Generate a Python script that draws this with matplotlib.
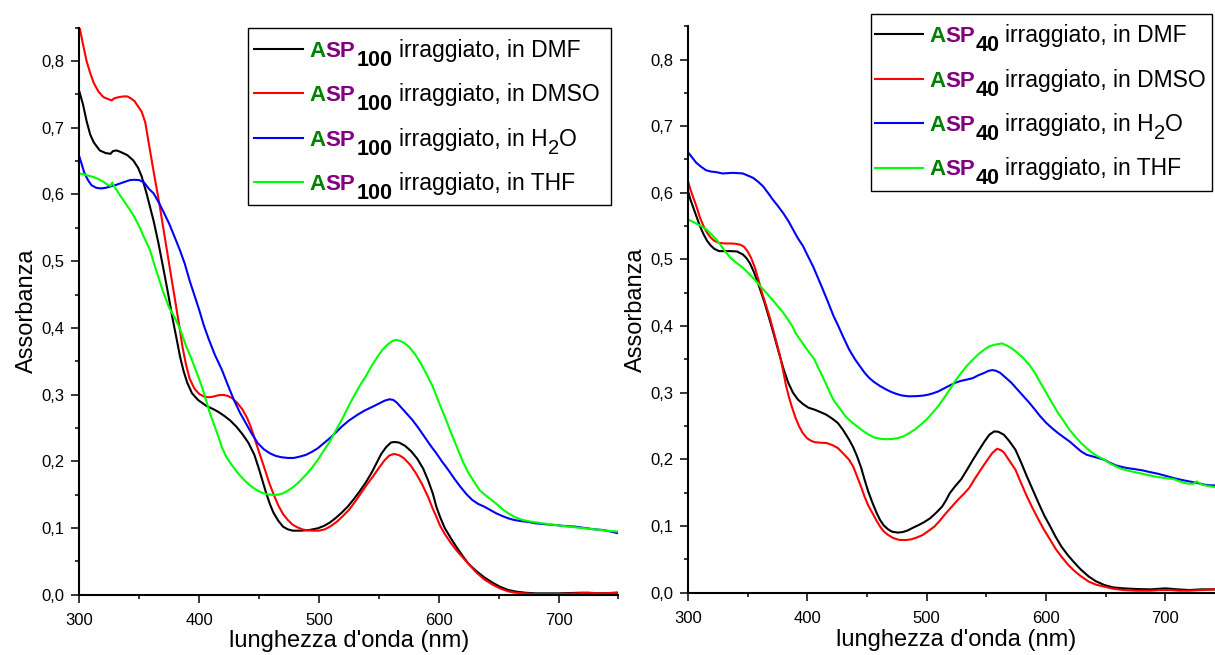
import matplotlib
matplotlib.use("Agg")
import matplotlib.pyplot as plt
from matplotlib.lines import Line2D
from matplotlib.patches import Rectangle
from matplotlib.ticker import FixedLocator, MultipleLocator, FixedFormatter

plt.rcParams['font.family'] = ['Liberation Sans', 'DejaVu Sans']

# ---------------- data: ASP100 (left panel) ----------------
wl_100_dmf = [300, 303, 306, 309, 312, 317, 322, 326, 328, 331, 334, 340, 345, 349, 352, 356, 359,
              362, 366, 370, 374, 378, 381, 384, 387, 390, 394, 399, 406, 412, 416, 421, 426, 431,
              436, 441, 446, 450, 453, 456, 459, 462, 466, 470, 474, 478, 485, 492, 499, 504, 509,
              514, 519, 524, 529, 534, 539, 544, 548, 552, 556, 560, 563, 567, 572, 577, 582, 587,
              591, 595, 598, 601, 605, 610, 615, 620, 625, 631, 638, 645, 651, 658, 665, 672, 681,
              700, 720, 735, 750]
abs_100_dmf = [0.754, 0.735, 0.710, 0.690, 0.678, 0.666, 0.662, 0.661, 0.665, 0.666, 0.664, 0.659,
               0.651, 0.640, 0.627, 0.602, 0.581, 0.560, 0.527, 0.490, 0.452, 0.412, 0.385, 0.357,
               0.335, 0.318, 0.302, 0.292, 0.283, 0.278, 0.274, 0.268, 0.261, 0.252, 0.241, 0.228,
               0.210, 0.188, 0.170, 0.152, 0.136, 0.123, 0.111, 0.102, 0.098, 0.096, 0.096, 0.097,
               0.0995, 0.103, 0.108, 0.115, 0.123, 0.132, 0.143, 0.155, 0.168, 0.183, 0.197, 0.211,
               0.221, 0.228, 0.229, 0.228, 0.223, 0.215, 0.204, 0.189, 0.172, 0.152, 0.132, 0.117,
               0.100, 0.085, 0.071, 0.058, 0.046, 0.036, 0.026, 0.018, 0.012, 0.007, 0.0045, 0.003,
               0.002, 0.002, 0.003, 0.002, 0.003]

wl_100_dmso = [300, 303, 306, 309, 312, 316, 320, 324, 327, 329, 333, 337, 340, 343, 346, 349, 352,
               355, 358.7, 362, 367, 372, 378, 383.8, 386, 389, 392, 396, 400, 404, 408, 412, 416,
               420, 424, 428, 432, 436, 440, 443, 446, 449, 452, 455, 458, 462, 466, 470, 474, 478,
               482, 486, 490, 495, 500, 505, 510, 515, 520, 525, 530, 535, 540, 545, 550, 555, 559,
               563, 567, 571, 576, 581, 586, 591, 595, 598, 601, 605, 610, 615, 620, 625, 631, 638,
               645, 651, 658, 664, 672, 680, 700, 715, 725, 735, 750]
abs_100_dmso = [0.852, 0.825, 0.800, 0.782, 0.767, 0.754, 0.746, 0.743, 0.741, 0.744, 0.746, 0.747,
                0.747, 0.744, 0.740, 0.732, 0.724, 0.708, 0.6685, 0.634, 0.5835, 0.528, 0.462,
                0.3985, 0.372, 0.345, 0.324, 0.309, 0.301, 0.297, 0.296, 0.297, 0.299, 0.2995,
                0.298, 0.294, 0.287, 0.278, 0.265, 0.252, 0.236, 0.219, 0.203, 0.187, 0.170, 0.151,
                0.134, 0.121, 0.112, 0.105, 0.101, 0.098, 0.0965, 0.096, 0.096, 0.098, 0.103,
                0.1095, 0.118, 0.127, 0.139, 0.152, 0.165, 0.177, 0.190, 0.202, 0.209, 0.211, 0.209,
                0.2045, 0.195, 0.182, 0.166, 0.147, 0.129, 0.117, 0.104, 0.091, 0.078, 0.066, 0.056,
                0.046, 0.034, 0.023, 0.015, 0.0095, 0.005, 0.003, 0.002, 0.001, 0.001, 0.002,
                0.003, 0.002, 0.003]

wl_100_h2o = [300, 302, 304, 307, 310, 314, 318, 322, 326, 330, 334, 338, 342, 346, 350, 354, 358,
              362, 367, 371, 375, 380, 384, 388, 392, 396, 400, 404, 408, 413, 419, 424, 429, 434,
              439, 444, 449, 454, 459, 464, 469, 474, 479, 484, 489, 494, 499, 504, 509, 514, 519,
              525, 532, 538, 545, 550, 555, 559, 562, 565, 568, 573, 578, 583, 588, 593, 598, 603,
              608, 613, 618, 623, 628, 633, 638, 643, 648, 653, 658, 663, 668, 675, 681, 690, 697,
              705, 714, 722, 730, 737, 744, 750]
abs_100_h2o = [0.6565, 0.645, 0.633, 0.622, 0.614, 0.610, 0.609, 0.610, 0.612, 0.614, 0.6165, 0.619,
               0.6215, 0.622, 0.6215, 0.618, 0.6085, 0.6015, 0.5855, 0.571, 0.556, 0.534, 0.516,
               0.496, 0.471, 0.449, 0.427, 0.403, 0.383, 0.360, 0.337, 0.314, 0.292, 0.273, 0.257,
               0.241, 0.227, 0.218, 0.212, 0.208, 0.206, 0.205, 0.205, 0.207, 0.2095, 0.214,
               0.2195, 0.227, 0.2345, 0.243, 0.252, 0.261, 0.2695, 0.276, 0.282, 0.2865, 0.291,
               0.293, 0.292, 0.288, 0.282, 0.272, 0.262, 0.250, 0.237, 0.224, 0.212, 0.199, 0.187,
               0.174, 0.162, 0.151, 0.142, 0.136, 0.132, 0.127, 0.122, 0.118, 0.1145, 0.112,
               0.1105, 0.109, 0.107, 0.1055, 0.1045, 0.103, 0.102, 0.100, 0.098, 0.097, 0.0945,
               0.092]

wl_100_thf = [300, 304, 308, 312, 316, 320, 324, 326, 327.5, 329, 331, 334, 338, 342, 346, 350, 354,
              358.7, 362, 365, 370, 375, 380, 384, 389, 393, 396, 400, 403, 406, 409, 413, 416, 419,
              422.5, 427, 432, 437, 442, 447, 452, 457, 462, 466, 470, 474, 479, 484, 489, 494,
              499, 504, 509, 514, 519, 524, 529, 534, 539, 544, 549, 553, 557, 561, 564, 567, 571,
              575, 580, 585, 590, 595, 600, 605, 610, 615, 620, 625, 630, 634, 639, 644, 649, 654,
              659, 664, 670, 677, 687, 697, 706, 714, 722, 730, 740, 750]
abs_100_thf = [0.6315, 0.630, 0.628, 0.626, 0.623, 0.619, 0.614, 0.613, 0.618, 0.612, 0.607, 0.5985,
               0.588, 0.5775, 0.566, 0.552, 0.5355, 0.518, 0.498, 0.4815, 0.4535, 0.430, 0.414,
               0.3985, 0.373, 0.356, 0.342, 0.323, 0.308, 0.290, 0.272, 0.252, 0.237, 0.221, 0.207,
               0.195, 0.183, 0.173, 0.1645, 0.158, 0.153, 0.1505, 0.1495, 0.150, 0.152, 0.156,
               0.162, 0.170, 0.1795, 0.190, 0.202, 0.216, 0.2295, 0.246, 0.262, 0.280, 0.297,
               0.313, 0.327, 0.343, 0.357, 0.367, 0.3745, 0.380, 0.382, 0.381, 0.3775, 0.372,
               0.361, 0.347, 0.330, 0.312, 0.289, 0.267, 0.244, 0.222, 0.200, 0.182, 0.168, 0.157,
               0.149, 0.142, 0.135, 0.127, 0.121, 0.116, 0.112, 0.1095, 0.107, 0.1045, 0.1025,
               0.101, 0.0995, 0.098, 0.096, 0.0945]

# ---------------- data: ASP40 (right panel) ----------------
wl_40_dmf = [300, 302, 304, 307, 310, 313, 316, 319, 322, 326, 331, 336, 341, 346, 349, 352, 355,
             358, 361, 364, 368, 372, 376, 380, 384, 388, 392, 396.4, 401, 406, 411, 416, 421,
             425.6, 430, 435, 438.5, 441.7, 445, 448, 451, 454.7, 458, 461, 464, 467.6, 471, 475.7,
             480, 483.8, 488, 493.5, 498, 503, 508, 513, 516, 519.4, 524, 529, 534, 538.8, 543.5,
             548.5, 552.5, 556.6, 560, 564.7, 569, 574.4, 579, 584, 589, 593.8, 598.5, 603.6, 608,
             613, 618, 623, 629, 636, 642, 648.9, 656, 665, 676, 687.7, 700, 710, 720, 730, 742,
             750]
abs_40_dmf = [0.6025, 0.590, 0.580, 0.565, 0.550, 0.538, 0.528, 0.521, 0.516, 0.5125, 0.5125,
              0.5125, 0.512, 0.5075, 0.502, 0.494, 0.482, 0.468, 0.452, 0.436, 0.412, 0.387,
              0.361, 0.336, 0.315, 0.300, 0.290, 0.283, 0.2775, 0.2747, 0.271, 0.267, 0.261,
              0.2546, 0.244, 0.2296, 0.218, 0.2045, 0.188, 0.1694, 0.152, 0.1343, 0.120, 0.109,
              0.101, 0.0952, 0.0915, 0.0902, 0.091, 0.0932, 0.097, 0.1017, 0.106, 0.1118, 0.120,
              0.1293, 0.138, 0.1494, 0.160, 0.1704, 0.185, 0.1995, 0.213, 0.227, 0.237, 0.242,
              0.2415, 0.237, 0.228, 0.2145, 0.196, 0.1744, 0.154, 0.1343, 0.116, 0.0992, 0.084,
              0.069, 0.057, 0.0466, 0.035, 0.024, 0.017, 0.0115, 0.008, 0.0065, 0.0055, 0.005,
              0.0065, 0.005, 0.004, 0.005, 0.005, 0.005]

wl_40_dmso = [300, 302, 304, 307, 310, 313, 316, 319, 322, 326, 331, 336, 340, 344, 347, 350, 353,
              356, 359, 362, 365.6, 369, 372, 375, 377, 379.5, 382, 384.5, 387, 390, 393, 396,
              399.7, 403, 406, 411, 416, 421, 425.6, 430, 435, 438.5, 441.7, 445, 448, 451, 454.7,
              458, 461, 464, 467.6, 472, 477, 482, 487, 492, 496.8, 501, 506.5, 511, 516, 521, 526,
              531, 535.6, 540, 545.3, 550, 555, 559, 562, 564.7, 569, 574.4, 579, 584, 589, 593.8,
              598.5, 603.6, 608, 613, 618, 623, 629, 636, 642, 648.9, 656, 665, 676, 687.7, 695,
              704, 712, 720, 730, 742, 750]
abs_40_dmso = [0.6175, 0.605, 0.595, 0.580, 0.563, 0.550, 0.540, 0.533, 0.528, 0.525, 0.524,
               0.524, 0.5235, 0.522, 0.519, 0.512, 0.502, 0.488, 0.470, 0.450, 0.430, 0.410,
               0.390, 0.370, 0.356, 0.335, 0.312, 0.294, 0.279, 0.263, 0.250, 0.240, 0.232, 0.228,
               0.226, 0.225, 0.2246, 0.2215, 0.217, 0.209, 0.1995, 0.189, 0.1744, 0.159, 0.144,
               0.131, 0.119, 0.108, 0.0992, 0.092, 0.0867, 0.082, 0.0792, 0.079, 0.080, 0.083,
               0.0867, 0.092, 0.0992, 0.108, 0.119, 0.129, 0.139, 0.148, 0.157, 0.170, 0.1845,
               0.197, 0.2095, 0.216, 0.214, 0.2105, 0.199, 0.1845, 0.165, 0.1444, 0.126, 0.1093,
               0.094, 0.0792, 0.066, 0.054, 0.043, 0.034, 0.025, 0.0165, 0.012, 0.009, 0.006,
               0.004, 0.003, 0.003, 0.004, 0.004, 0.003, 0.003, 0.004, 0.005, 0.005]

wl_40_h2o = [300, 303, 307, 311, 315, 319, 323.7, 329, 333, 337.7, 342, 346, 350, 354.5, 358.5,
             362.8, 367, 371, 375, 379.6, 384, 388, 392, 396.4, 400.5, 404.7, 409, 413, 417, 422,
             426, 430, 435, 440, 444, 448, 452, 456, 461, 466, 470, 474, 479, 484, 487, 492,
             496.8, 501, 505, 509.7, 514, 519.4, 524, 529, 533, 538.8, 543, 548.5, 552, 555, 558,
             561.5, 566, 571, 576, 581, 586, 590.6, 595, 600.3, 605, 610, 615, 619.7, 624.5,
             629.4, 634, 639, 644, 648.9, 653.5, 658.6, 663, 668, 674, 681, 687, 694, 700, 707,
             713, 720, 727, 733, 738, 742, 750]
abs_40_h2o = [0.661, 0.654, 0.645, 0.639, 0.634, 0.632, 0.631, 0.629, 0.6295, 0.630, 0.6295,
              0.629, 0.626, 0.6225, 0.617, 0.610, 0.600, 0.590, 0.581, 0.570, 0.558, 0.545,
              0.532, 0.520, 0.505, 0.490, 0.472, 0.455, 0.4375, 0.415, 0.400, 0.384, 0.365,
              0.350, 0.340, 0.330, 0.322, 0.316, 0.310, 0.305, 0.3015, 0.2987, 0.296, 0.2948,
              0.2947, 0.295, 0.2957, 0.297, 0.299, 0.302, 0.306, 0.311, 0.315, 0.318, 0.3195,
              0.322, 0.326, 0.330, 0.333, 0.334, 0.333, 0.330, 0.323, 0.315, 0.305, 0.295, 0.285,
              0.275, 0.265, 0.2546, 0.247, 0.2396, 0.233, 0.227, 0.2195, 0.212, 0.207, 0.2045,
              0.202, 0.1995, 0.195, 0.191, 0.189, 0.187, 0.1855, 0.1835, 0.181, 0.1784, 0.1755,
              0.172, 0.1695, 0.167, 0.1645, 0.162, 0.161, 0.161, 0.160]

wl_40_thf = [300, 304, 307, 311, 315.4, 319.5, 323.7, 328, 332, 336, 340.5, 345, 349, 353, 357,
             361, 365.6, 370, 374, 379, 383, 388, 390, 395, 399.7, 403, 406, 409, 412.6, 416, 419,
             422, 425.6, 429, 432, 437, 441.7, 446.5, 451.5, 456, 461, 466, 471, 476, 480.6, 485,
             490, 495, 500, 505, 509.7, 514.5, 519.4, 524, 529, 534, 538.8, 543.5, 548.5, 553,
             558, 563, 567, 571, 576, 581, 586, 590.6, 595, 600.3, 605, 610, 615, 619.7, 624.5,
             629.4, 634, 639, 644, 648.9, 653.5, 658.6, 663, 668, 674, 681, 687, 694, 700, 707,
             712, 716.7, 720, 723, 725, 726.5, 728.5, 731, 736, 742, 750]
abs_40_thf = [0.560, 0.5565, 0.554, 0.550, 0.545, 0.538, 0.530, 0.520, 0.510, 0.502, 0.495, 0.489,
              0.4825, 0.475, 0.4675, 0.459, 0.450, 0.441, 0.4325, 0.422, 0.412, 0.398, 0.390,
              0.377, 0.365, 0.357, 0.350, 0.338, 0.325, 0.312, 0.2997, 0.289, 0.280, 0.272,
              0.2646, 0.256, 0.2496, 0.243, 0.237, 0.233, 0.231, 0.2302, 0.2306, 0.232, 0.2346,
              0.239, 0.2446, 0.252, 0.260, 0.270, 0.280, 0.292, 0.305, 0.318, 0.330, 0.341, 0.350,
              0.358, 0.365, 0.370, 0.3724, 0.374, 0.371, 0.367, 0.360, 0.352, 0.342, 0.330, 0.316,
              0.2997, 0.285, 0.270, 0.257, 0.2446, 0.234, 0.2246, 0.217, 0.2095, 0.204, 0.1995,
              0.194, 0.1895, 0.186, 0.1835, 0.181, 0.1784, 0.176, 0.1734, 0.172, 0.1704, 0.167,
              0.1644, 0.1635, 0.1634, 0.165, 0.167, 0.164, 0.162, 0.160, 0.1584, 0.157]

solvents = ["DMF", "DMSO", "H2O", "THF"]
series_colors = ["#000000", "#ff0000", "#0000ff", "#00ff00"]
sample_labels = ["100", "40"]

x_ticks = [300, 400, 500, 600, 700]
y_ticks = [0.0, 0.1, 0.2, 0.3, 0.4, 0.5, 0.6, 0.7, 0.8]
y_tick_labels = ["0,0", "0,1", "0,2", "0,3", "0,4", "0,5", "0,6", "0,7", "0,8"]

W, H = 1215, 655
fig = plt.figure(figsize=(W / 100, H / 100), dpi=100)
fig.patch.set_facecolor("white")


def fx(x):
    return x / W


def fy(y):
    return 1 - y / H


ax_l = fig.add_axes([fx(79.4), fy(594.7), 539 / W, 567 / H])
ax_r = fig.add_axes([fx(688), fy(592.7), 537 / W, 566.5 / H])

panels = [
    (ax_l, [(wl_100_dmf, abs_100_dmf), (wl_100_dmso, abs_100_dmso),
            (wl_100_h2o, abs_100_h2o), (wl_100_thf, abs_100_thf)]),
    (ax_r, [(wl_40_dmf, abs_40_dmf), (wl_40_dmso, abs_40_dmso),
            (wl_40_h2o, abs_40_h2o), (wl_40_thf, abs_40_thf)]),
]

for ax, curves in panels:
    for (wl, ab), col in zip(curves, series_colors):
        ax.plot(wl, ab, color=col, lw=1.5, solid_joinstyle="round", clip_on=True)
    ax.set_xlim(300, 750)
    ax.set_ylim(0, 0.85)
    for side in ("top", "right"):
        ax.spines[side].set_visible(False)
    for side in ("left", "bottom"):
        ax.spines[side].set_linewidth(1.5)
    ax.xaxis.set_major_locator(FixedLocator(x_ticks))
    ax.xaxis.set_minor_locator(MultipleLocator(50))
    ax.yaxis.set_major_locator(FixedLocator(y_ticks))
    ax.yaxis.set_major_formatter(FixedFormatter(y_tick_labels))
    ax.yaxis.set_minor_locator(MultipleLocator(0.05))
    ax.tick_params(which="major", direction="out", length=5.5, width=1.1, labelsize=12)
    ax.tick_params(which="minor", direction="out", length=2.6, width=1.1)
    ax.tick_params(axis="x", which="major", pad=8)
    ax.tick_params(axis="y", which="major", pad=5)
    ax.set_xlabel("lunghezza d'onda (nm)", fontsize=17)
    ax.set_ylabel("Assorbanza", fontsize=17)
    ax.yaxis.set_label_coords(-0.076, 0.5)

ax_l.xaxis.set_label_coords(0.5, -0.062)
ax_r.xaxis.set_label_coords(0.5, -0.064)

# ---------------- legends built from coloured text pieces ----------------
renderer = fig.canvas.get_renderer()
GREEN = "#008000"
PURPLE = "#800080"


def put(x, y, s, **kw):
    t = fig.text(fx(x), fy(y), s, va="baseline", ha="left", **kw)
    return t.get_window_extent(renderer).width


def draw_legend(box, line_x, first_y, step, asp_x, sub_x, text_x, sub_label):
    x0, y0, x1, y1 = box
    fig.add_artist(Rectangle((fx(x0), fy(y1)), fx(x1) - fx(x0), fy(y0) - fy(y1),
                             transform=fig.transFigure, fill=False, ec="black", lw=1.0))
    for i, (solvent, col) in enumerate(zip(solvents, series_colors)):
        y = first_y + i * step
        fig.add_artist(Line2D([fx(line_x[0]), fx(line_x[1])], [fy(y), fy(y)],
                              transform=fig.transFigure, color=col, lw=1.5))
        base = y + 8
        w = put(asp_x, base, "A", color=GREEN, fontweight="bold", fontsize=16)
        put(asp_x + w, base, "SP", color=PURPLE, fontweight="bold", fontsize=16)
        put(sub_x, base + 9, sub_label, color="black", fontweight="bold", fontsize=15.5)
        if solvent == "H2O":
            w1 = put(text_x, base, "irraggiato, in H", color="black", fontsize=16.5)
            w2 = put(text_x + w1 + 0.5, base + 8, "2", color="black", fontsize=14.5)
            put(text_x + w1 + w2 + 0.5, base, "O", color="black", fontsize=16.5)
        else:
            put(text_x, base, "irraggiato, in " + solvent, color="black", fontsize=16.5)


draw_legend((248, 28, 611, 205), (254, 303), 49, 44.4, 309, 357, 399, sample_labels[0])
draw_legend((870.7, 14.3, 1212, 190.7), (875, 923), 34.3, 44.4, 929, 976, 1005, sample_labels[1])

fig.savefig("out.png", dpi=100)
